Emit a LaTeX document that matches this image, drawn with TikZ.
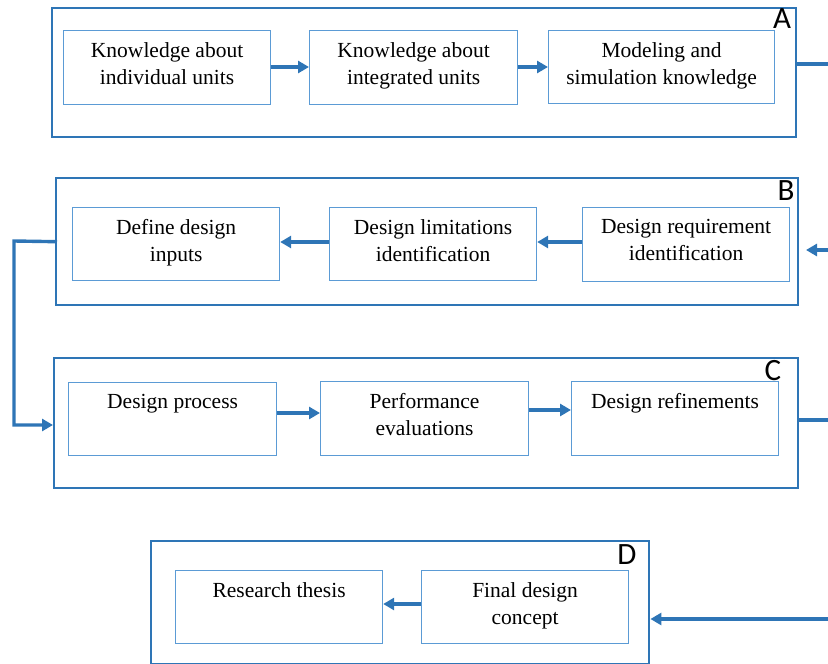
\documentclass[tikz,border=0pt]{standalone}
\usepackage{fontspec}
\setmainfont{Liberation Serif}
\newfontfamily\labelfont{Carlito}
\usetikzlibrary{arrows.meta,calc}
\definecolor{framecol}{HTML}{2E75B6}
\definecolor{boxcol}{HTML}{5B9BD5}
\definecolor{arrcol}{HTML}{2E75B6}
\begin{document}
\begin{tikzpicture}[x=1pt,y=-1pt,
  frame/.style={draw=framecol,line width=2.4pt,rectangle,inner sep=0pt},
  stepbox/.style={draw=boxcol,line width=1.2pt,rectangle,inner sep=0pt,anchor=north west},
  boxtext/.style={anchor=north,inner sep=0pt,align=center,font=\fontsize{21.5}{27}\selectfont,yshift=-12.5pt},
  tag/.style={inner sep=0pt,font=\labelfont\fontsize{31}{32}\selectfont},
  flow/.style={draw=arrcol,line width=3.4pt,-{Triangle[length=11pt,width=12pt]}},
  link/.style={draw=arrcol,line width=3.4pt}]
\useasboundingbox (0,0) rectangle (828,664);

% outer frames
\node[frame,minimum width=744pt,minimum height=129pt,anchor=north west] (fA) at (51,7) {};
\node[frame,minimum width=742pt,minimum height=127pt,anchor=north west] (fB) at (55,177) {};
\node[frame,minimum width=744pt,minimum height=130pt,anchor=north west] (fC) at (53,357) {};
\node[frame,minimum width=498pt,minimum height=123pt,anchor=north west] (fD) at (150,540) {};

\node[tag] (tA) at (782,19) {A};
\node[tag] (tB) at (786,191) {B};
\node[tag] (tC) at (773,371) {C};
\node[tag] (tD) at (627,555) {D};

% row A
\node[stepbox,minimum width=207pt,minimum height=74pt] (a1) at (63,30) {};
\node[stepbox,minimum width=208pt,minimum height=74pt] (a2) at (309,30) {};
\node[stepbox,minimum width=226pt,minimum height=73pt] (a3) at (548,30) {};
\node[boxtext] (a1t) at (a1.north) {Knowledge about\\individual units};
\node[boxtext] (a2t) at (a2.north) {Knowledge about\\integrated units};
\node[boxtext] (a3t) at (a3.north) {Modeling and\\simulation knowledge};
\draw[flow] (a1.east |- 0,67) -- (a2.west |- 0,67);
\draw[flow] (a2.east |- 0,67) -- (a3.west |- 0,67);

% row B
\node[stepbox,minimum width=207pt,minimum height=73pt] (b1) at (72,207) {};
\node[stepbox,minimum width=207pt,minimum height=73pt] (b2) at (329,207) {};
\node[stepbox,minimum width=207pt,minimum height=74pt] (b3) at (582,207) {};
\node[boxtext] (b1t) at (b1.north) {Define design\\inputs};
\node[boxtext] (b2t) at (b2.north) {Design limitations\\identification};
\node[boxtext] (b3t) at (b3.north) {Design requirement\\identification};
\draw[flow] (b3.west |- 0,242) -- (b2.east |- 0,242);
\draw[flow] (b2.west |- 0,242) -- (b1.east |- 0,242);

% row C
\node[stepbox,minimum width=208pt,minimum height=73pt] (c1) at (68,382) {};
\node[stepbox,minimum width=208pt,minimum height=74pt] (c2) at (320,381) {};
\node[stepbox,minimum width=207pt,minimum height=74pt] (c3) at (571,381) {};
\node[boxtext] (c1t) at (c1.north) {Design process};
\node[boxtext] (c2t) at (c2.north) {Performance\\evaluations};
\node[boxtext] (c3t) at (c3.north) {Design refinements};
\draw[flow] (c1.east |- 0,413) -- (c2.west |- 0,413);
\draw[flow] (c2.east |- 0,410) -- (c3.west |- 0,410);

% row D
\node[stepbox,minimum width=207pt,minimum height=73pt] (d1) at (175,570) {};
\node[stepbox,minimum width=207pt,minimum height=73pt] (d2) at (421,570) {};
\node[boxtext] (d1t) at (d1.north) {Research thesis};
\node[boxtext] (d2t) at (d2.north) {Final design\\concept};
\draw[flow] (d2.west |- 0,604) -- (d1.east |- 0,604);

% links between stages
\coordinate (outA) at (828,64);
\coordinate (inB) at (828,250);
\coordinate (stopB) at (806,250);
\coordinate (outC) at (828,420);
\coordinate (inD) at (828,619);
\draw[link] (fA.east |- outA) -- (outA);
\draw[flow] (inB) -- (stopB);
\draw[link] (fC.east |- outC) -- (outC);
\draw[flow] (inD) -- (fD.east |- inD);
\draw[flow] ($(fB.west)+(2,0)$) -- (14,241) |- (fC.west |- 0,425);
\end{tikzpicture}
\end{document}
